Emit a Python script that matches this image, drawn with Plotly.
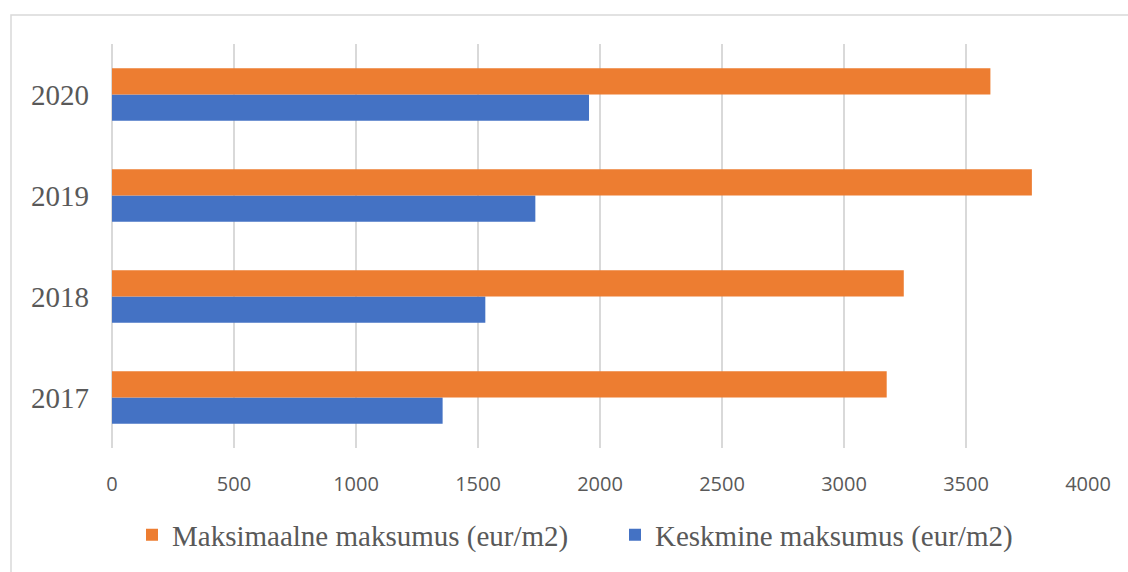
import plotly.graph_objects as go

years = ["2017", "2018", "2019", "2020"]
keskmine = [1355, 1530, 1735, 1955]
maksimaalne = [3175, 3245, 3770, 3600]
x_ticks = [0, 500, 1000, 1500, 2000, 2500, 3000, 3500, 4000]

fig = go.Figure()
fig.add_trace(go.Bar(
    y=years, x=keskmine, orientation="h",
    name="Keskmine maksumus (eur/m2)",
    marker=dict(color="#4472C4", line=dict(width=0)),
))
fig.add_trace(go.Bar(
    y=years, x=maksimaalne, orientation="h",
    name="Maksimaalne maksumus (eur/m2)",
    marker=dict(color="#ED7D31", line=dict(width=0)),
))

W, H = 1128, 572
L, R, T, B = 112, 40, 44, 119
pw, ph = W - L - R, H - T - B

fig.update_layout(
    width=W, height=H,
    margin=dict(l=L, r=R, t=T, b=B, pad=0),
    paper_bgcolor="white", plot_bgcolor="white",
    barmode="group", bargap=0.48, bargroupgap=0,
    showlegend=True,
    legend=dict(
        orientation="h", traceorder="reversed",
        entrywidth=438, entrywidthmode="pixels",
        x=(132 - L) / pw, xanchor="left",
        y=(H - B - 541) / ph, yanchor="middle",
        font=dict(family="Liberation Serif", size=29, color="#595959"),
        bgcolor="rgba(0,0,0,0)",
    ),
    xaxis=dict(
        range=[0, 4000], tickvals=x_ticks, ticktext=[str(v) for v in x_ticks],
        showgrid=True, gridcolor="#D9D9D9", gridwidth=1.5,
        zeroline=True, zerolinecolor="#D9D9D9", zerolinewidth=1.5,
        showline=False, ticks="", ticklabelstandoff=22,
        tickfont=dict(family="Open Sans", size=20, color="#595959"),
        fixedrange=True,
    ),
    yaxis=dict(
        type="category", categoryorder="array", categoryarray=years,
        showgrid=False, zeroline=False, showline=False, ticks="",
        ticklabelstandoff=22,
        tickfont=dict(family="Liberation Serif", size=29, color="#595959"),
        fixedrange=True,
    ),
    shapes=[dict(
        type="rect", xref="paper", yref="paper", layer="below",
        x0=(11 - L) / pw, x1=(W + 20 - L) / pw,
        y0=(H - B - (H + 20)) / ph, y1=(H - B - 14.7) / ph,
        line=dict(color="#D9D9D9", width=1.5), fillcolor="rgba(0,0,0,0)",
    )],
)

fig.write_html("out.html")
